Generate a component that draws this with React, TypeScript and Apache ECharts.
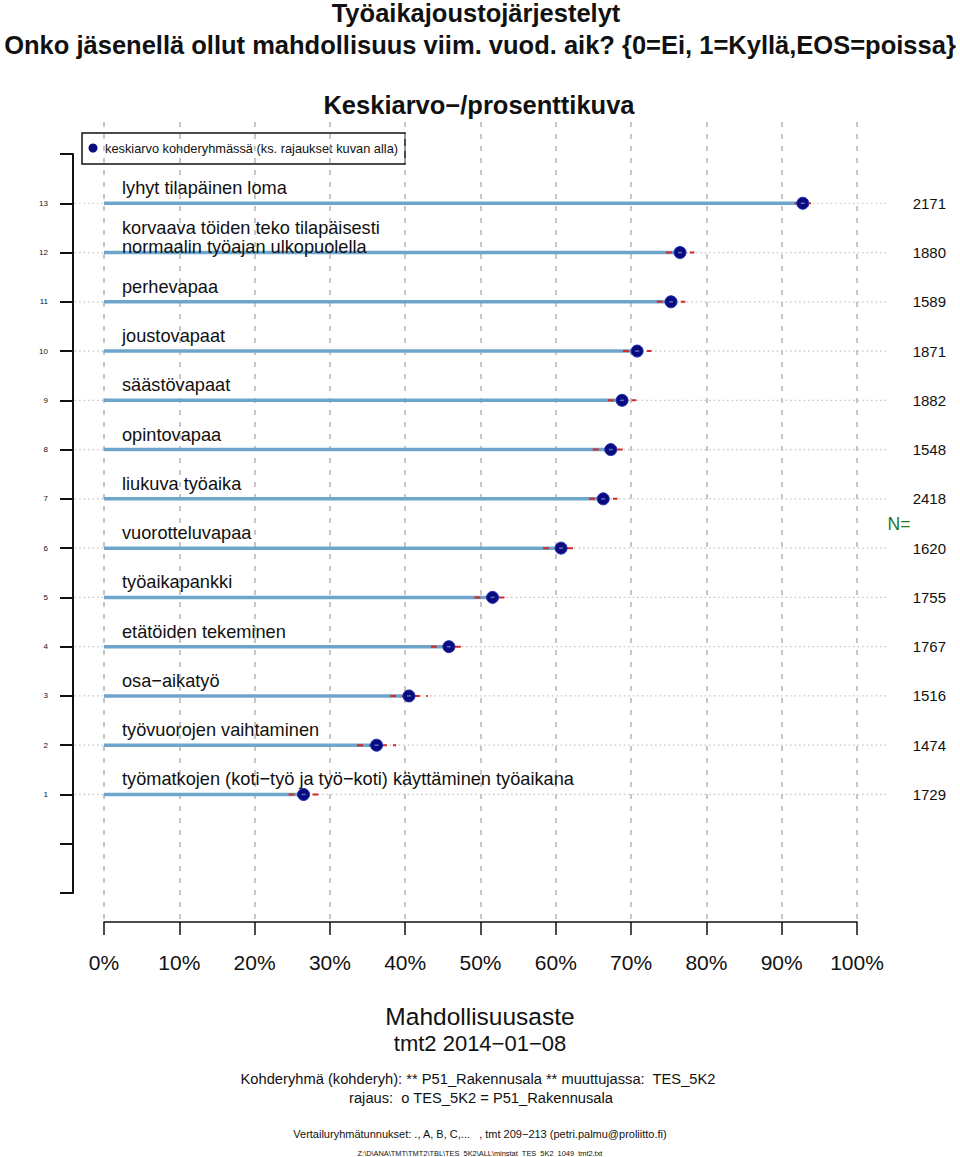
import React, { useEffect, useRef } from "react";
import * as echarts from "echarts";

// rows 1..13 from bottom to top
const rows = [1, 2, 3, 4, 5, 6, 7, 8, 9, 10, 11, 12, 13];
const categories = [
  "työmatkojen (koti−työ ja työ−koti) käyttäminen työaikana",
  "työvuorojen vaihtaminen",
  "osa−aikatyö",
  "etätöiden tekeminen",
  "työaikapankki",
  "vuorotteluvapaa",
  "liukuva työaika",
  "opintovapaa",
  "säästövapaat",
  "joustovapaat",
  "perhevapaa",
  "korvaava töiden teko tilapäisesti\nnormaalin työajan ulkopuolella",
  "lyhyt tilapäinen loma",
];
const means = [26.5, 36.2, 40.5, 45.8, 51.6, 60.7, 66.3, 67.3, 68.8, 70.8, 75.3, 76.5, 92.8];
const ciHalf = [2.0, 2.6, 2.5, 2.4, 2.4, 2.4, 1.9, 2.4, 1.9, 1.9, 1.9, 1.9, 1.1];
const nCounts = [1729, 1474, 1516, 1767, 1755, 1620, 2418, 1548, 1882, 1871, 1589, 1880, 2171];
const xTickValues = [0, 10, 20, 30, 40, 50, 60, 70, 80, 90, 100];
const yTickLabels = ["1", "2", "3", "4", "5", "6", "7", "8", "9", "10", "11", "12", "13"];

const FONT = "'Liberation Sans', Arial, Helvetica, sans-serif";

export default function App() {
  const ref = useRef<HTMLDivElement>(null);

  useEffect(() => {
    const chart = echarts.init(ref.current!, null, { renderer: "svg" });
    const data = rows.map((r, i) => [means[i], r, ciHalf[i], nCounts[i]]);

    const txt = (x: number, y: number, text: string, fontSize: number, extra: any = {}) => ({
      type: "text",
      x,
      y,
      style: {
        text,
        fontSize,
        fill: "#111",
        fontFamily: FONT,
        align: "center",
        verticalAlign: "middle",
        ...extra,
      },
    });

    const option: any = {
      animation: false,
      backgroundColor: "#ffffff",
      grid: [
        { left: 104, width: 753, top: 154, height: 739 },
        { left: 104, width: 753, top: 122, height: 800 },
      ],
      xAxis: [
        { gridIndex: 0, type: "value", min: 0, max: 100, show: false },
        {
          gridIndex: 1,
          type: "value",
          min: xTickValues[0],
          max: xTickValues[xTickValues.length - 1],
          interval: 10,
          axisLine: { show: true, onZero: false, lineStyle: { color: "#111", width: 1.5 } },
          axisTick: { show: true, length: 13, lineStyle: { color: "#111", width: 1.5 } },
          axisLabel: {
            formatter: (v: number) => `${v}%`,
            fontSize: 21,
            color: "#111",
            margin: 30,
            fontFamily: FONT,
          },
          splitLine: { show: true, lineStyle: { color: "#b4b4b4", type: [5, 7], width: 1.5 } },
        },
      ],
      yAxis: [
        {
          gridIndex: 0,
          type: "value",
          min: -1,
          max: 14,
          interval: 1,
          offset: 31,
          axisLine: { show: true, onZero: false, lineStyle: { color: "#111", width: 2 } },
          axisTick: { show: true, length: 13, lineStyle: { color: "#111", width: 2 } },
          axisLabel: {
            formatter: (v: number) => (v >= 1 && v <= 13 ? yTickLabels[v - 1] : ""),
            fontSize: 8,
            color: "#111",
            margin: 25,
            fontFamily: FONT,
          },
          splitLine: { show: false },
        },
        { gridIndex: 1, type: "value", show: false, min: 0, max: 1 },
      ],
      series: [
        {
          type: "custom",
          xAxisIndex: 0,
          yAxisIndex: 0,
          clip: false,
          data,
          encode: { x: 0, y: 1 },
          renderItem: (params: any, api: any) => {
            const v = api.value(0);
            const r = api.value(1);
            const e = api.value(2);
            const n = api.value(3);
            const idx = params.dataIndex;
            const p0 = api.coord([0, r]);
            const pv = api.coord([v, r]);
            const pl = api.coord([v - e, r]);
            const pr = api.coord([v + e, r]);
            const dl = api.coord([-3.9, r]);
            const dr = api.coord([104.1, r]);
            return {
              type: "group",
              children: [
                {
                  type: "line",
                  shape: { x1: dl[0], y1: dl[1], x2: dr[0], y2: dr[1] },
                  style: { stroke: "#c4c4c4", lineWidth: 1.2, lineDash: [1.5, 3] },
                },
                {
                  type: "line",
                  shape: { x1: p0[0], y1: p0[1], x2: pv[0], y2: pv[1] },
                  style: { stroke: "#6ea6cb", lineWidth: 3.5 },
                },
                {
                  type: "line",
                  shape: { x1: pl[0], y1: pl[1], x2: pr[0], y2: pr[1] },
                  style: { stroke: "#d42a2a", lineWidth: 2, lineDash: [6, 6] },
                },
                {
                  type: "circle",
                  shape: { cx: pv[0], cy: pv[1], r: 6 },
                  style: { fill: "#0b0b80", stroke: "#1c2cb0", lineWidth: 1 },
                },
                {
                  type: "line",
                  shape: { x1: pv[0] - 2, y1: pv[1], x2: pv[0] + 2, y2: pv[1] },
                  style: { stroke: "#5b70b8", lineWidth: 1.5 },
                },
                {
                  type: "text",
                  x: p0[0] + 18,
                  y: p0[1] - 15,
                  style: {
                    text: categories[idx],
                    fontSize: 18.2,
                    fill: "#111",
                    fontFamily: FONT,
                    align: "left",
                    verticalAlign: "middle",
                    lineHeight: 19,
                  },
                },
                {
                  type: "text",
                  x: 946,
                  y: p0[1],
                  style: {
                    text: String(n),
                    fontSize: 15,
                    fill: "#111",
                    fontFamily: FONT,
                    align: "right",
                    verticalAlign: "middle",
                  },
                },
              ],
            };
          },
        },
      ],
      graphic: [
        txt(476, 13, "Työaikajoustojärjestelyt", 25.5, { fontWeight: "bold" }),
        txt(480, 45, "Onko jäsenellä ollut mahdollisuus viim. vuod. aik? {0=Ei, 1=Kyllä,EOS=poissa}", 25.5, {
          fontWeight: "bold",
        }),
        txt(479, 105, "Keskiarvo−/prosenttikuva", 25.5, { fontWeight: "bold" }),
        {
          type: "rect",
          shape: { x: 82, y: 133, width: 323, height: 31 },
          style: { fill: "none", stroke: "#111", lineWidth: 1.5 },
        },
        {
          type: "circle",
          shape: { cx: 93, cy: 148, r: 4.5 },
          style: { fill: "#0b0b80" },
        },
        txt(105, 148, "keskiarvo kohderyhmässä (ks. rajaukset kuvan alla)", 12.8, { align: "left" }),
        txt(899, 524, "N=", 17.5, { fill: "#1e7a1e" }),
        txt(480, 1016, "Mahdollisuusaste", 24.5),
        txt(480, 1043, "tmt2 2014−01−08", 22),
        txt(478, 1079, "Kohderyhmä (kohderyh): ** P51_Rakennusala ** muuttujassa:  TES_5K2", 14.7),
        txt(481, 1098, "rajaus:  o TES_5K2 = P51_Rakennusala", 14.7),
        txt(480, 1134, "Vertailuryhmätunnukset: ., A, B, C,...   , tmt 209−213 (petri.palmu@proliitto.fi)", 11),
        txt(480, 1153, "Z:\\D\\ANA\\TMT\\TMT2\\TBL\\TES_5K2\\ALL\\minstat_TES_5K2_1049_tmt2.txt", 7.4),
      ],
    };

    chart.setOption(option);
    return () => chart.dispose();
  }, []);

  return (
    <div
      ref={ref}
      style={{ position: "absolute", left: 0, top: 0, width: 960, height: 1157, background: "#fff" }}
    />
  );
}
